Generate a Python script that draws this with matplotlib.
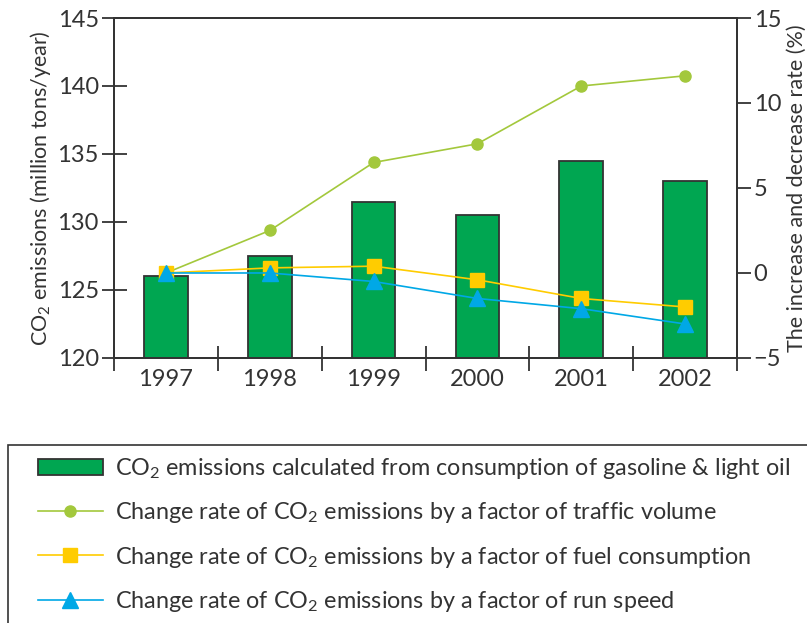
import numpy as np
import matplotlib.pyplot as plt
from matplotlib.patches import Rectangle

plt.rcParams['font.family'] = ['Lato', 'DejaVu Sans']
plt.rcParams['mathtext.fontset'] = 'custom'
plt.rcParams['mathtext.rm'] = 'Lato'
plt.rcParams['mathtext.it'] = 'Lato'

# data
years = ['1997', '1998', '1999', '2000', '2001', '2002']
co2 = [126.0, 127.5, 131.5, 130.5, 134.5, 133.0]
traffic = [0.0, 2.5, 6.5, 7.6, 11.0, 11.6]
fuel = [0.0, 0.3, 0.4, -0.4, -1.5, -2.0]
speed = [0.0, 0.0, -0.5, -1.5, -2.1, -3.0]

dark = '#333333'
c_bar = '#00a651'
c_traffic = '#a3c83c'
c_fuel = '#ffcc00'
c_speed = '#00a8e6'

fig = plt.figure(figsize=(8.07, 6.23), dpi=100)
ax = fig.add_axes([0.1413, 0.4254, 0.772, 0.5457])
x = np.arange(len(years))

bars = ax.bar(x, [v - 120 for v in co2], bottom=120, width=0.42, color=c_bar,
              edgecolor=dark, linewidth=1.3, zorder=2,
              label='CO$_2$ emissions calculated from consumption of gasoline & light oil')
ax.set_ylim(120, 145)
ax.set_xlim(-0.5, 5.5)
ax.set_yticks(range(120, 146, 5))
ax.set_xticks(np.arange(-0.5, 6, 1))
ax.set_xticklabels([''] * 7)
ax.set_xticks(x, minor=True)
ax.set_xticklabels(years, minor=True)
ax.tick_params(axis='x', which='minor', length=0, pad=8, labelsize=17, labelcolor=dark)
ax.tick_params(axis='x', which='major', direction='inout', length=18, width=1.3, color=dark)
ax.tick_params(axis='y', direction='inout', length=18, width=1.3, color=dark,
               labelsize=17, labelcolor=dark, pad=2)
for s in ax.spines.values():
    s.set_color(dark)
    s.set_linewidth(1.3)
ax.set_ylabel('CO$_2$ emissions (million tons/year)', fontsize=15.5, color=dark, labelpad=3)

ax2 = ax.twinx()
ax2.set_ylim(-5, 15)
ax2.set_yticks(range(-5, 16, 5))
ax2.tick_params(axis='y', direction='out', length=10, width=1.3, color=dark,
                labelsize=17, labelcolor=dark, pad=2)
for s in ax2.spines.values():
    s.set_color(dark)
    s.set_linewidth(1.3)
ax2.set_ylabel('The increase and decrease rate (%)', fontsize=15.5, color=dark, labelpad=4)

l1, = ax2.plot(x, traffic, color=c_traffic, marker='o', markersize=8, linewidth=1.2,
               label='Change rate of CO$_2$ emissions by a factor of traffic volume')
l2, = ax2.plot(x, fuel, color=c_fuel, marker='s', markersize=10, linewidth=1.2,
               label='Change rate of CO$_2$ emissions by a factor of fuel consumption')
l3, = ax2.plot(x, speed, color=c_speed, marker='^', markersize=12, linewidth=1.2,
               label='Change rate of CO$_2$ emissions by a factor of run speed')

# legend box runs off the figure edge as in the original
fig.patches.append(Rectangle((8 / 807, -0.05), 1.0, 1 - 445 / 623 + 0.05,
                             transform=fig.transFigure, fill=False,
                             edgecolor=dark, linewidth=1.2))
fig.legend(handles=[bars, l1, l2, l3], loc='upper left',
           bbox_to_anchor=(0.035, 1 - 447 / 623), frameon=False,
           fontsize=16.8, handlelength=2.8, handletextpad=0.5, labelspacing=0.82,
           labelcolor=dark, borderaxespad=0)

fig.savefig('out.png', dpi=100)
